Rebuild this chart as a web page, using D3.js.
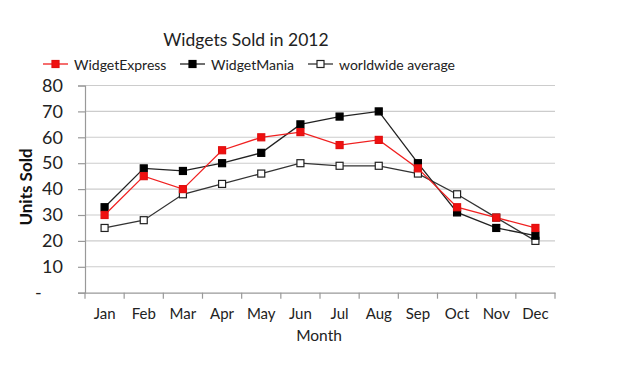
<!DOCTYPE html>
<html><head><meta charset="utf-8">
<script src="https://cdn.jsdelivr.net/npm/d3@7"></script>
<style>body{margin:0;background:#fff}svg{display:block}text{font-family:Lato,"Open Sans",sans-serif}</style>
</head><body><svg id="c" width="617" height="379"></svg>
<script>
const months = ["Jan","Feb","Mar","Apr","May","Jun","Jul","Aug","Sep","Oct","Nov","Dec"];
const widgetExpress = [30,45,40,55,60,62,57,59,48,33,29,25];
const widgetMania = [33,48,47,50,54,65,68,70,50,31,25,22];
const worldwideAverage = [25,28,38,42,46,50,49,49,46,38,29,20];
const yTicks = [0,10,20,30,40,50,60,70,80];
const seriesNames = ["WidgetExpress","WidgetMania","worldwide average"];

const svg = d3.select("#c");
const L = 85, R = 555, T = 85.5, B = 292.7;
const x = d3.scaleBand().domain(months).range([L, R]);
const y = d3.scaleLinear().domain([0, 80]).range([B, T]);

// gridlines
svg.append("g").selectAll("line").data(yTicks.filter(d => d > 0)).join("line")
  .attr("x1", L).attr("x2", R).attr("y1", d => y(d)).attr("y2", d => y(d))
  .attr("stroke", "#cccccc").attr("stroke-width", 1.1);

// y axis
const ya = svg.append("g").attr("transform", `translate(${L},0)`)
  .call(d3.axisLeft(y).tickValues(yTicks).tickSize(7).tickPadding(15).tickFormat(d => d === 0 ? "" : d));
ya.select(".domain").attr("stroke", "#999").attr("stroke-width", 1.2);
ya.selectAll(".tick line").attr("stroke", "#999").attr("stroke-width", 1.2);
ya.selectAll(".tick text").attr("font-size", 18).attr("fill", "#222").attr("font-family", "Lato, sans-serif");
svg.append("text").attr("x", 35).attr("y", y(0) + 6).attr("font-size", 18).attr("fill", "#222").text("-");

// x axis
const xa = svg.append("g").attr("transform", `translate(0,${B})`)
  .call(d3.axisBottom(x).tickSize(0).tickPadding(16));
xa.select(".domain").attr("stroke", "#999").attr("stroke-width", 1.2);
xa.selectAll(".tick text").attr("font-size", 15).attr("fill", "#222").attr("font-family", "Lato, sans-serif");
// boundary tick marks
const bounds = months.map(m => x(m)).concat([R]);
svg.append("g").selectAll("line").data(bounds).join("line")
  .attr("x1", d => d).attr("x2", d => d).attr("y1", B).attr("y2", B + 6)
  .attr("stroke", "#999").attr("stroke-width", 1.2);

const cx = m => x(m) + x.bandwidth() / 2;
const line = d3.line().x((d, i) => cx(months[i])).y(d => y(d));
const series = [
  {name: seriesNames[0], data: widgetExpress, stroke: "#f02020", fill: "#f01010", mstroke: "#e01010"},
  {name: seriesNames[1], data: widgetMania, stroke: "#222", fill: "#000", mstroke: "#000"},
  {name: seriesNames[2], data: worldwideAverage, stroke: "#333", fill: "#fff", mstroke: "#222"}
];
[series[2], series[1], series[0]].forEach(s => {
  svg.append("path").attr("d", line(s.data)).attr("fill", "none")
    .attr("stroke", s.stroke).attr("stroke-width", 1.3);
  svg.append("g").selectAll("rect").data(s.data).join("rect")
    .attr("x", (d, i) => cx(months[i]) - 3.5).attr("y", d => y(d) - 3.5)
    .attr("width", 7).attr("height", 7)
    .attr("fill", s.fill).attr("stroke", s.mstroke).attr("stroke-width", 1.2);
});

// title
svg.append("text").attr("x", 246).attr("y", 46).attr("text-anchor", "middle")
  .attr("font-size", 17.5).attr("fill", "#222").text("Widgets Sold in 2012");

// legend
const legX = [43, 180, 308];
series.forEach((s, i) => {
  const g = svg.append("g");
  g.append("line").attr("x1", legX[i]).attr("x2", legX[i] + 25).attr("y1", 64).attr("y2", 64)
    .attr("stroke", s.stroke).attr("stroke-width", 1.3);
  g.append("rect").attr("x", legX[i] + 9).attr("y", 60.5).attr("width", 7).attr("height", 7)
    .attr("fill", s.fill).attr("stroke", s.mstroke).attr("stroke-width", 1.2);
  g.append("text").attr("x", legX[i] + 31).attr("y", 70).attr("font-size", 14)
    .attr("fill", "#222").text(s.name);
});

// axis titles
svg.append("text").attr("transform", "translate(32,187) rotate(-90)").attr("text-anchor", "middle")
  .attr("font-size", 17).attr("font-weight", "bold").attr("fill", "#111").text("Units Sold");
svg.append("text").attr("x", 319).attr("y", 341).attr("text-anchor", "middle")
  .attr("font-size", 15.5).attr("fill", "#222").text("Month");
</script></body></html>
